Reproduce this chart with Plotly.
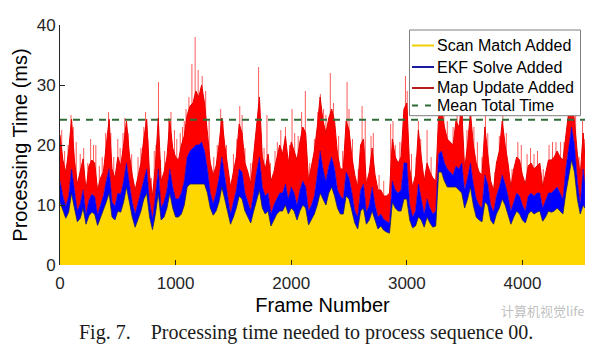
import plotly.graph_objects as go

# Frame indices at which the per-frame timings are sampled
frames = list(range(0, 4526, 25)) + [4540]

# Cumulative processing time (ms): scan matching only
scan_match = [
    10.5, 9.2, 7.8, 8.8, 12.0, 9.5, 7.2, 7.8, 9.5, 6.8,
    8.2, 8.8, 8.5, 6.6, 7.8, 9.0, 10.5, 12.0, 8.0, 7.5,
    9.0, 8.8, 10.5, 13.0, 10.5, 8.0, 6.3, 7.8, 9.0, 11.0,
    12.0, 8.0, 5.9, 8.5, 12.0, 7.5, 8.0, 9.5, 12.0, 9.5,
    8.0, 8.0, 8.5, 10.0, 13.0, 13.5, 13.5, 13.5, 13.5, 13.5,
    13.5, 12.0, 9.5, 8.3, 9.0, 10.5, 13.0, 11.0, 8.8, 6.8,
    8.0, 9.5, 11.5, 11.0, 9.0, 8.0, 7.0, 9.0, 11.0, 12.5,
    9.5, 8.5, 9.0, 6.5, 7.5, 8.5, 9.0, 9.0, 10.0, 8.5,
    9.5, 9.0, 7.5, 9.0, 10.0, 9.5, 6.7, 7.5, 8.5, 10.0,
    12.0, 11.0, 10.0, 12.0, 13.0, 11.5, 9.5, 8.5, 8.5, 11.5,
    11.0, 9.0, 7.0, 6.0, 9.0, 9.5, 6.8, 7.5, 9.0, 7.5,
    6.0, 6.5, 5.8, 5.5, 5.3, 10.5, 9.5, 9.0, 9.0, 11.0,
    11.0, 7.5, 6.2, 6.5, 8.0, 7.5, 6.3, 8.0, 7.0, 6.3,
    6.5, 15.5, 15.5, 14.0, 13.0, 13.0, 13.0, 13.0, 12.5, 12.0,
    9.5, 11.0, 13.0, 10.0, 8.0, 7.5, 7.2, 10.5, 10.0, 7.5,
    6.8, 8.5, 9.5, 11.0, 10.0, 8.5, 6.8, 8.0, 9.0, 8.5,
    7.5, 7.0, 8.5, 9.0, 8.5, 8.8, 9.0, 7.3, 8.0, 9.0,
    8.8, 9.0, 9.5, 9.0, 8.5, 12.0, 15.0, 17.5, 15.5, 11.0,
    8.5, 10.0, 9.5,
]

# Cumulative time after the EKF solve is added
ekf_added = [
    14.0, 11.5, 9.8, 11.5, 16.0, 12.5, 9.0, 10.2, 12.5, 8.4,
    10.8, 11.8, 11.4, 8.4, 10.0, 11.5, 14.0, 16.0, 10.5, 9.8,
    12.0, 11.8, 14.0, 17.0, 13.5, 10.5, 8.5, 10.5, 12.0, 14.5,
    16.0, 10.5, 7.6, 11.5, 16.0, 9.5, 10.5, 12.5, 16.0, 13.0,
    11.0, 11.0, 12.0, 14.0, 18.0, 19.0, 19.5, 20.0, 20.0, 20.5,
    19.0, 16.0, 12.0, 10.2, 12.0, 14.5, 18.0, 14.5, 11.5, 8.5,
    10.5, 12.5, 16.0, 15.5, 12.0, 10.5, 9.0, 12.0, 15.5, 18.0,
    13.0, 11.5, 12.0, 8.5, 10.0, 11.0, 12.0, 12.0, 13.5, 11.0,
    13.0, 12.0, 10.0, 12.5, 14.0, 13.0, 9.0, 10.0, 11.5, 15.0,
    19.0, 16.0, 14.0, 16.5, 18.0, 16.0, 12.5, 11.5, 11.0, 15.5,
    14.5, 12.0, 9.0, 8.0, 12.5, 13.5, 8.8, 10.0, 13.0, 10.0,
    8.0, 8.5, 7.6, 7.3, 7.0, 14.0, 12.5, 12.0, 12.5, 17.0,
    17.0, 10.0, 8.0, 9.0, 13.5, 11.0, 8.5, 11.0, 9.5, 8.5,
    9.0, 18.5, 19.0, 17.0, 16.0, 15.5, 15.0, 16.5, 16.0, 17.0,
    12.5, 14.5, 17.0, 13.5, 11.0, 10.0, 9.5, 15.0, 13.5, 10.0,
    8.8, 11.5, 13.0, 15.0, 13.5, 11.5, 9.0, 10.5, 12.0, 11.5,
    10.0, 9.0, 11.5, 12.0, 11.5, 12.0, 12.0, 9.5, 10.8, 12.0,
    12.0, 12.5, 13.0, 12.0, 11.0, 16.0, 19.5, 23.0, 20.0, 14.0,
    10.0, 16.0, 13.5,
]

# Total time after the map update is added
map_added = [
    21.7, 17.5, 15.5, 19.0, 24.3, 17.5, 13.5, 15.5, 17.7, 12.5,
    16.5, 17.5, 17.0, 12.5, 14.5, 15.5, 20.0, 24.3, 16.0, 14.5,
    18.0, 16.5, 20.0, 24.0, 18.5, 15.0, 12.5, 15.0, 17.0, 21.0,
    24.3, 15.0, 11.5, 16.5, 24.5, 14.0, 15.5, 18.0, 24.0, 19.5,
    18.0, 17.5, 20.0, 21.5, 25.0, 26.5, 27.0, 29.0, 28.0, 30.0,
    27.0, 22.0, 17.0, 15.0, 16.5, 20.0, 24.5, 20.0, 16.5, 13.0,
    15.5, 18.0, 23.5, 22.0, 17.0, 15.5, 13.5, 18.0, 23.0, 28.0,
    18.0, 16.0, 18.5, 14.0, 15.5, 17.5, 20.0, 18.5, 21.5, 17.0,
    20.5, 19.0, 17.5, 20.5, 23.0, 22.0, 14.0, 16.5, 19.0, 23.0,
    28.0, 24.0, 22.0, 24.5, 26.0, 24.0, 18.5, 16.0, 16.0, 24.0,
    22.5, 18.0, 15.0, 13.0, 20.0, 21.0, 13.5, 15.5, 19.5, 15.0,
    12.5, 12.5, 11.5, 11.5, 12.0, 21.0, 18.0, 17.0, 18.0, 26.0,
    27.0, 16.0, 13.0, 15.0, 22.5, 18.0, 14.0, 17.0, 15.5, 14.5,
    14.0, 25.0, 26.0, 23.0, 21.0, 20.5, 20.0, 24.0, 23.0, 26.0,
    16.0, 20.0, 25.5, 20.0, 17.0, 15.5, 15.0, 23.0, 19.0, 14.0,
    12.5, 17.0, 19.0, 24.0, 20.0, 17.0, 13.0, 16.0, 18.0, 17.5,
    15.0, 13.5, 16.5, 17.0, 16.0, 16.5, 17.0, 13.0, 15.5, 17.5,
    17.5, 18.0, 19.0, 18.0, 17.5, 22.0, 25.5, 28.0, 24.0, 18.5,
    15.0, 22.0, 18.0,
]

# Isolated single-frame peaks of the total time
spike_frames = [15, 40, 70, 95, 115, 140, 175, 205, 240, 265, 290, 310, 340, 365,
                395, 420, 440, 465, 500, 520, 545, 560, 590, 620, 675, 700, 725,
                740, 760, 790, 815, 830, 852, 870, 905, 940, 960, 990, 1010, 1040,
                1060, 1075, 1090, 1115, 1141, 1169, 1195, 1230, 1260, 1290, 1330,
                1360, 1390, 1410, 1440, 1500, 1530, 1555, 1575, 1600, 1650, 1690,
                1718, 1740, 1765, 1790, 1820, 1860, 1880, 1910, 1950, 1985, 2007,
                2030, 2060, 2090, 2122, 2160, 2200, 2230, 2252, 2280, 2300, 2338,
                2365, 2410, 2445, 2483, 2500, 2530, 2580, 2613, 2640, 2690, 2710,
                2760, 2800, 2860, 2880, 2900, 2940, 2988, 3003, 3040, 3080, 3100,
                3120, 3175, 3210, 3260, 3290, 3320, 3350, 3400, 3435, 3460, 3480,
                3520, 3551, 3580, 3610, 3650, 3680, 3700, 3760, 3800, 3830, 3860,
                3910, 3960, 3990, 4040, 4070, 4100, 4130, 4180, 4230, 4260, 4290,
                4330, 4360, 4400, 4430, 4460, 4490, 4520, 4535]
spike_peaks = [22.5, 19.0, 20.0, 25.0, 23.0, 20.5, 18.5, 19.5, 17.0, 21.0, 20.0, 20.0, 16.5, 18.0,
               22.0, 25.5, 22.0, 18.0, 21.0, 19.5, 22.0, 24.5, 22.0, 18.5, 18.0, 19.5, 23.0,
               25.5, 21.0, 14.5, 19.0, 20.0, 30.5, 17.5, 19.0, 24.5, 25.5, 22.5, 21.0, 22.0,
               23.0, 24.0, 26.0, 28.0, 33.5, 38.0, 32.5, 31.5, 29.0, 24.0, 18.0,
               20.0, 26.0, 24.0, 20.0, 18.5, 21.0, 26.5, 25.0, 19.5, 17.0, 21.0,
               33.0, 22.0, 19.5, 25.0, 17.0, 19.0, 20.5, 22.5, 23.0, 20.0, 26.0,
               22.0, 21.5, 25.5, 29.0, 17.0, 21.0, 25.5, 28.5, 26.0, 25.0, 32.0,
               27.0, 21.5, 19.0, 30.5, 26.0, 21.0, 16.0, 26.5, 24.0, 21.5, 22.0,
               15.0, 14.0, 23.5, 24.0, 20.0, 20.5, 31.5, 29.0, 18.5, 18.0, 24.0,
               21.0, 22.5, 18.0, 17.0, 27.5, 25.0, 24.0, 23.0, 27.0, 26.5, 27.5,
               22.5, 27.0, 23.0, 20.5, 18.0, 25.5, 22.0, 15.5, 21.5, 25.0, 22.0,
               16.0, 20.5, 20.0, 18.5, 19.5, 18.5, 19.0, 16.0, 20.0, 20.5, 20.5,
               20.5, 20.5, 27.0, 30.0, 26.0, 18.0, 24.0, 21.0]

MEAN_TOTAL = 24.2
N_FRAMES = 4541

YELLOW = "#FFD700"
BLUE = "#0000FF"
RED = "#FF0000"
GREEN = "#2E6B36"
AXIS = "#262626"
SANS = "Liberation Sans, Arial, sans-serif"

fig = go.Figure()

# thin spikes underneath the stacked fills, only their tips stay visible
sx, sy = [], []
for f, p in zip(spike_frames, spike_peaks):
    sx += [f, f, None]
    sy += [0, p, None]
fig.add_trace(go.Scatter(x=sx, y=sy, mode="lines", line=dict(color="#FF5A5A", width=1),
                         hoverinfo="skip"))

fig.add_trace(go.Scatter(x=frames, y=scan_match, mode="lines", fill="tozeroy",
                         fillcolor=YELLOW, line=dict(color="#1A1A66", width=0.8),
                         hoverinfo="skip"))
fig.add_trace(go.Scatter(x=frames, y=ekf_added, mode="lines", fill="tonexty",
                         fillcolor=BLUE, line=dict(color="#0000E6", width=0.6),
                         hoverinfo="skip"))
fig.add_trace(go.Scatter(x=frames, y=map_added, mode="lines", fill="tonexty",
                         fillcolor=RED, line=dict(color="#E60000", width=1),
                         hoverinfo="skip"))

fig.add_trace(go.Scatter(x=[0, N_FRAMES], y=[MEAN_TOTAL, MEAN_TOTAL], mode="lines",
                         line=dict(color=GREEN, width=2, dash="7px,6px"),
                         hoverinfo="skip"))

# legend box, drawn in paper coordinates of the plot area
def px_x(px):
    return (px - 60) / 525.0


def px_y(py):
    return (265 - py) / 240.0


legend_items = [("Scan Match Added", "#F0D000", "solid", 45.5),
                ("EKF Solve Added", "#1A1AA0", "solid", 67.0),
                ("Map Update Added", "#B81C1C", "solid", 88.0),
                ("Mean Total Time", GREEN, "6px,7px", 105.5)]

shapes = [dict(type="rect", xref="paper", yref="paper",
               x0=px_x(409.5), x1=px_x(580.5), y0=px_y(115.7), y1=px_y(30),
               fillcolor="white", line=dict(color="#7F7F7F", width=1), layer="above")]
annotations = []
for label, col, dash, row in legend_items:
    shapes.append(dict(type="line", xref="paper", yref="paper",
                       x0=px_x(412), x1=px_x(434 if dash == "solid" else 432),
                       y0=px_y(row), y1=px_y(row),
                       line=dict(color=col, width=2, dash=dash), layer="above"))
    annotations.append(dict(text=label, xref="paper", yref="paper",
                            x=px_x(435), y=px_y(row), xanchor="left", yanchor="middle",
                            showarrow=False, font=dict(family=SANS, size=16, color="black")))

annotations += [
    dict(text="Fig. 7.\u00a0\u00a0\u00a0\u00a0Processing time needed to process sequence 00.",
         xref="paper", yref="paper", x=0.4695, y=px_y(332), xanchor="center", yanchor="middle",
         showarrow=False, font=dict(family="Liberation Serif, Times New Roman, serif", size=20,
                                    color="#1a1a1a")),
    dict(text="计算机视觉life", xref="paper", yref="paper", x=px_x(543), y=px_y(310),
         xanchor="center", yanchor="middle", showarrow=False,
         font=dict(family="Noto Sans CJK SC, sans-serif", size=13, color="rgba(170,170,170,0.75)")),
]

fig.update_layout(
    width=609, height=347,
    margin=dict(l=60, r=24, t=25, b=82),
    paper_bgcolor="white", plot_bgcolor="white",
    font=dict(family=SANS, color="black"),
    showlegend=False,
    xaxis=dict(range=[0, N_FRAMES], tickvals=[0, 1000, 2000, 3000, 4000],
               ticks="inside", ticklen=5, tickcolor=AXIS, showline=False,
               showgrid=False, zeroline=False, ticklabelstandoff=6,
               tickfont=dict(family=SANS, size=17, color=AXIS),
               title=dict(text="Frame Number", font=dict(family=SANS, size=20, color="black"),
                          standoff=5)),
    yaxis=dict(range=[0, 40], tickvals=[0, 10, 20, 30, 40],
               ticks="inside", ticklen=5, tickcolor=AXIS, showline=True,
               linecolor=AXIS, linewidth=1, showgrid=False, zeroline=False,
               tickfont=dict(family=SANS, size=17, color=AXIS),
               title=dict(text="Processing Time (ms)", font=dict(family=SANS, size=20, color="black"),
                          standoff=3)),
    shapes=shapes,
    annotations=annotations,
)

fig.write_html("out.html")
